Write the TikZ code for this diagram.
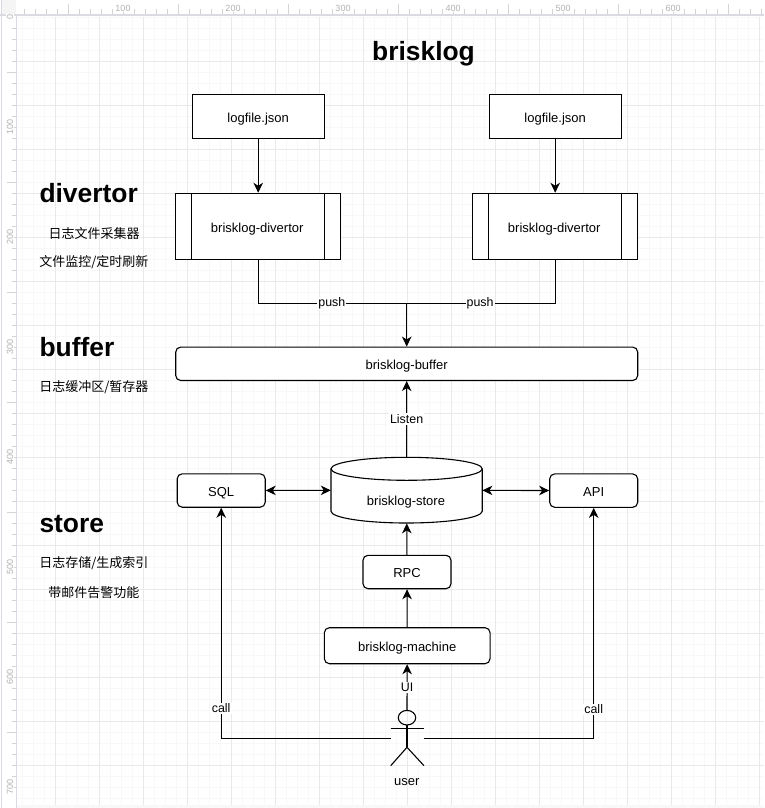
\documentclass[tikz,border=0pt]{standalone}
\usepackage{fontspec}
\setmainfont{Liberation Sans}
\newfontfamily\cjk{Noto Sans CJK SC}
\usetikzlibrary{positioning,arrows.meta}
\definecolor{gridminor}{RGB}{248,248,248}
\definecolor{gridmajor}{RGB}{233,233,233}
\definecolor{rulerline}{RGB}{218,218,226}
\definecolor{rulertick}{RGB}{212,212,212}
\definecolor{rulertext}{RGB}{178,178,178}
\definecolor{cornerfill}{RGB}{245,245,245}
\definecolor{bandfill}{RGB}{248,248,250}

\begin{document}
\begin{tikzpicture}[
  x=1pt, y=-1pt,
  box/.style={
    draw,
    line width=1.1pt,
    fill=white,
    align=center,
    font=\fontsize{13}{15}\selectfont,
    text height=12pt,
    text depth=0.5pt,
    inner sep=0pt
  },
  logbox/.style={box, minimum width=132pt, minimum height=44pt},
  divbox/.style={box, minimum width=165pt, minimum height=66pt},
  roundbox/.style={box, rounded corners=5pt, minimum height=33.4pt},
  heading/.style={font=\fontsize{26.4}{30}\selectfont\bfseries, inner sep=0pt, anchor=base west},
  note/.style={font=\fontsize{13}{15}\selectfont\cjk, inner sep=0pt},
  lbl/.style={font=\fontsize{12.4}{14}\selectfont, fill=white, inner sep=1pt},
  plainlbl/.style={font=\fontsize{13}{15}\selectfont, inner sep=0pt, text height=12pt, text depth=0.5pt},
  rulerlbl/.style={font=\fontsize{9}{10}\selectfont, text=rulertext, fill=white, inner sep=0.5pt},
  arr/.style={-{Stealth[length=10pt,width=9.5pt,inset=3pt]}, line width=1.1pt},
  twoarr/.style={{Stealth[length=10pt,width=9.5pt,inset=3pt]}-{Stealth[length=10pt,width=9.5pt,inset=3pt]}, line width=1.1pt},
  wire/.style={line width=1.1pt}
]
\useasboundingbox (0,0) rectangle (764,808);
\fill[white] (0,0) rectangle (764,808);

% grid and rulers
\foreach \i in {0,...,67}
  \draw[gridminor, line width=.8pt] ({22.3+11*\i},17) -- ({22.3+11*\i},805);
\foreach \i in {0,...,71}
  \draw[gridminor, line width=.8pt] (17,{17.3+11*\i}) -- (764,{17.3+11*\i});
\foreach \i in {0,...,16}
  \draw[gridmajor, line width=.8pt] ({55.3+44*\i},17) -- ({55.3+44*\i},805);
\foreach \i in {0,...,17}
  \draw[gridmajor, line width=.8pt] (17,{61.3+44*\i}) -- (764,{61.3+44*\i});
\fill[bandfill] (17,805) rectangle (764,808);
\fill[cornerfill] (2,0) rectangle (16,14);
\foreach \i in {1,...,68}
  \draw[rulertick, line width=.7pt] ({13.3+11*\i},9) -- ({13.3+11*\i},14);
\foreach \i in {0,...,6}
  \draw[rulertick, line width=.7pt] ({68.3+110*\i},4.5) -- ({68.3+110*\i},14);
\foreach \i in {1,...,70}
  \draw[rulertick, line width=.7pt] (11.7,{17.3+11*\i}) -- (16,{17.3+11*\i});
\foreach \i in {0,...,6}
  \draw[rulertick, line width=.7pt] (6.7,{72.3+110*\i}) -- (16,{72.3+110*\i});
\draw[rulerline, line width=1.6pt] (0,15.3) -- (764,15.3);
\draw[rulerline, line width=1pt] (16.3,15) -- (16.3,808);
\draw[rulerline, line width=1pt] (1.5,0) -- (1.5,808);
\foreach \v in {100,200,...,600}
  \node[rulerlbl] (top\v) at ({13+1.1*\v},8) {\v};
\node[rulerlbl, rotate=90] (left0) at (10,17) {0};
\foreach \v in {100,200,...,700}
  \node[rulerlbl, rotate=90] (left\v) at (10,{16.7+1.1*\v}) {\v};

% title and side notes
\node[heading, anchor=base] (title) at (423.5,60) {brisklog};
\node[heading] (divertor) at (39.3,202.4) {divertor};
\node[note] (divnote1) at (94,233.5) {日志文件采集器};
\node[note] (divnote2) at (93.8,262.5) {文件监控/定时刷新};
\node[heading] (buffer) at (39.3,356.5) {buffer};
\node[note] (bufnote) at (93.8,387.5) {日志缓冲区/暂存器};
\node[heading] (store) at (39.3,532.4) {store};
\node[note] (stonote1) at (93.8,563.5) {日志存储/生成索引};
\node[note] (stonote2) at (93.8,592.5) {带邮件告警功能};

% logfiles and divertors
\node[logbox] (logleft) at (258.2,116.5) {logfile.json};
\node[logbox] (logright) at (555.2,116.5) {logfile.json};
\node[divbox] (divleft) at (258.2,226.3) {\hspace*{-2pt}brisklog-divertor};
\node[divbox] (divright) at (555.2,226.3) {\hspace*{-2pt}brisklog-divertor};
\foreach \d in {divleft,divright} {
  \draw[wire] ([xshift=16.5pt]\d.north west) -- ([xshift=16.5pt]\d.south west);
  \draw[wire] ([xshift=-16.5pt]\d.north east) -- ([xshift=-16.5pt]\d.south east);
}

% buffer and store
\node[roundbox, minimum width=462pt] (bufbox) at (406.7,363.8) {brisklog-buffer};
\node[inner sep=0pt, minimum width=151.2pt, minimum height=66pt] (storebox) at (406.6,490.2) {};
\draw[wire, fill=white] (331,468.8) -- (331,511.2)
  arc[start angle=180, end angle=360, x radius=75.6pt, y radius=11.8pt] -- (482.2,468.8);
\draw[wire, fill=white] (406.6,468.8) ellipse[x radius=75.6pt, y radius=11.5pt];
\node[plainlbl] (storelabel) at (406,499.3) {brisklog-store};
\node[roundbox, minimum width=88pt] (sql) at (221.2,490.5) {SQL};
\node[roundbox, minimum width=88pt] (api) at (593.7,490.6) {API};
\node[roundbox, minimum width=88pt] (rpc) at (407,572) {RPC};
\node[roundbox, minimum width=165.7pt, minimum height=36pt] (machine) at (407.2,645.7) {brisklog-machine};

% user
\coordinate (headtop) at (407,710.4);
\coordinate (userhip) at (407,747.3);
\coordinate (callleft) at (390.7,738.5);
\coordinate (callright) at (423.7,738.5);
\draw[wire] (407,717.7) ellipse[x radius=8.7pt, y radius=7.3pt];
\draw[wire] (407,725) -- (userhip);
\draw[wire] (390.7,728.5) -- (424,728.5);
\draw[wire] (390.7,765.7) -- (userhip) -- (424,765.7);
\node[plainlbl] (username) at (406.7,780) {user};

% arrows
\draw[arr] (logleft) -- (divleft);
\draw[arr] (logright) -- (divright);
\coordinate (pushjoin) at (406.7,303.5);
\draw[wire] (divleft.south) |- (pushjoin) node[lbl, pos=0.748] (pushl) {push};
\draw[wire] (divright.south) |- (pushjoin) node[lbl, pos=0.753] (pushr) {push};
\draw[arr] (pushjoin) -- (bufbox);
\draw[arr] (storebox.north) -- node[lbl] (listen) {Listen} (bufbox);
\draw[twoarr] (sql) -- (storebox);
\draw[twoarr] (storebox) -- (api);
\draw[arr] (rpc) -- (storebox);
\draw[arr] (machine) -- (rpc);
\draw[arr] (headtop) -- node[lbl] (ui) {UI} (machine);
\draw[arr] (callleft) -| node[lbl, pos=0.565] (calll) {call} (sql);
\draw[arr] (callright) -| node[lbl, pos=0.563] (callr) {call} (api);

\end{tikzpicture}
\end{document}
